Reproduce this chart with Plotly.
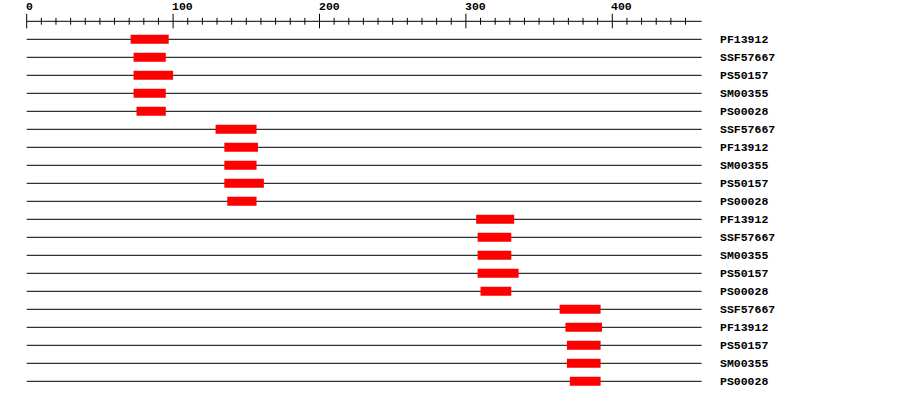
import plotly.graph_objects as go

# Domaines (positions de début / fin sur la séquence)
noms = ["PF13912", "SSF57667", "PS50157", "SM00355", "PS00028",
        "SSF57667", "PF13912", "SM00355", "PS50157", "PS00028",
        "PF13912", "SSF57667", "SM00355", "PS50157", "PS00028",
        "SSF57667", "PF13912", "PS50157", "SM00355", "PS00028"]
debut = [71, 73, 73, 73, 75,
         129, 135, 135, 135, 137,
         307, 308, 308, 308, 310,
         364, 368, 369, 369, 371]
fin = [97, 95, 100, 95, 95,
       157, 158, 157, 162, 157,
       333, 331, 331, 336, 331,
       392, 393, 392, 392, 392]

longueur = 461
graduations = list(range(0, 451, 10))
etiquettes_regle = [0, 100, 200, 300, 400]

# échelle : 1 unité = 1.464 px, 0 à x=26.7 px ; 1 ligne = 18 px
px_unite = 1.464
x0_px = 26.7
y0_px = 39.3
y_regle = -1.0
demi_bar = 0.25

police = dict(family="Liberation Mono", size=11.5, color="black")

fig = go.Figure()

# lignes des séquences
lx, ly = [], []
for i in range(len(noms)):
    lx += [0, longueur, None]
    ly += [i, i, None]
fig.add_trace(go.Scatter(x=lx, y=ly, mode="lines", line=dict(color="black", width=1),
                         hoverinfo="skip", showlegend=False))

# règle
fig.add_trace(go.Scatter(x=[0, longueur], y=[y_regle, y_regle], mode="lines",
                         line=dict(color="black", width=1), hoverinfo="skip", showlegend=False))
tx, ty = [], []
for g in graduations:
    if g % 100 == 0:
        tx += [g, g, None]
        ty += [y_regle - 0.42, y_regle + 0.39, None]
    else:
        tx += [g, g, None]
        ty += [y_regle - 0.19, y_regle + 0.19, None]
fig.add_trace(go.Scatter(x=tx, y=ty, mode="lines", line=dict(color="black", width=1),
                         hoverinfo="skip", showlegend=False))

# domaines en rouge
bx, by = [], []
for i, (d, f) in enumerate(zip(debut, fin)):
    bx += [d, f, f, d, d, None]
    by += [i - demi_bar, i - demi_bar, i + demi_bar, i + demi_bar, i - demi_bar, None]
fig.add_trace(go.Scatter(x=bx, y=by, mode="lines", fill="toself", fillcolor="#ff0000",
                         line=dict(width=0, color="#ff0000"), hoverinfo="skip", showlegend=False))

# étiquettes
annotations = []
for v in etiquettes_regle:
    annotations.append(dict(x=v, y=y_regle - 0.82, text="<b>%d</b>" % v, showarrow=False,
                            xanchor="left", yanchor="middle", font=police, borderpad=0, xshift=-2))
for i, n in enumerate(noms):
    annotations.append(dict(x=longueur + 11.8, y=i, text="<b>%s</b>" % n, showarrow=False,
                            xanchor="left", yanchor="middle", font=police, borderpad=0))

fig.update_layout(
    width=900, height=400,
    margin=dict(l=0, r=0, t=0, b=0),
    paper_bgcolor="white", plot_bgcolor="white",
    annotations=annotations,
    xaxis=dict(range=[-x0_px / px_unite, (900 - x0_px) / px_unite], visible=False, fixedrange=True),
    yaxis=dict(range=[(400 - y0_px) / 18, -y0_px / 18], visible=False, fixedrange=True),
)

# pas de marge autour de la figure dans la page
fig.write_html("out.html", config={"displayModeBar": False},
               post_script="document.body.style.margin = '0';")
